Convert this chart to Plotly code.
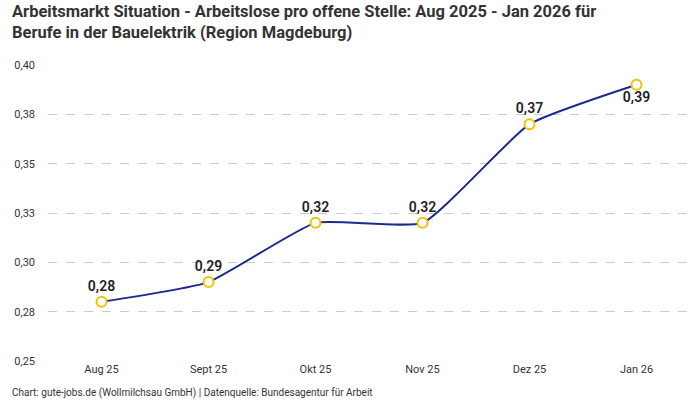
import plotly.graph_objects as go

# Daten
monate = ['Aug 25', 'Sept 25', 'Okt 25', 'Nov 25', 'Dez 25', 'Jan 26']
werte = [0.28, 0.29, 0.32, 0.32, 0.37, 0.39]
label_pos = ['top center', 'top center', 'top center', 'top center', 'top center', 'bottom center']

y_ticks = [0.25, 0.275, 0.30, 0.325, 0.35, 0.375, 0.40]
y_ticktext = ['0,25', '0,28', '0,30', '0,33', '0,35', '0,38', '0,40']

FONT = 'Roboto'

fig = go.Figure()

fig.add_trace(go.Scatter(
    x=monate,
    y=werte,
    mode='lines+markers+text',
    line=dict(color='#1b2a8c', width=2, shape='spline', smoothing=0.45),
    marker=dict(size=10, color='white', line=dict(color='#f5c000', width=2)),
    text=[f"{v:.2f}".replace('.', ',') for v in werte],
    textposition=label_pos,
    textfont=dict(family=FONT, size=14, color='#222', weight=600),
    hoverinfo='skip',
    showlegend=False
))

fig.add_annotation(
    xref='paper', yref='paper', x=-0.059, y=1.22,
    text='<b>Arbeitsmarkt Situation - Arbeitslose pro offene Stelle: Aug 2025 - Jan 2026 für<br>Berufe in der Bauelektrik (Region Magdeburg)</b>',
    showarrow=False, xanchor='left', yanchor='top', align='left',
    font=dict(family=FONT, size=16.5, color='#333')
)

fig.add_annotation(
    xref='paper', yref='paper', x=-0.059, y=-0.108,
    text='Chart: gute-jobs.de (Wollmilchsau GmbH) | Datenquelle: Bundesagentur für Arbeit',
    showarrow=False, xanchor='left', yanchor='middle', align='left',
    font=dict(family=FONT, size=10, color='#333')
)

fig.update_layout(
    width=700, height=400,
    margin=dict(l=48, r=10, t=65, b=39),
    plot_bgcolor='white', paper_bgcolor='white',
    font=dict(family=FONT, size=11, color='#333'),
    xaxis=dict(
        range=[-0.5, 5.5],
        showgrid=False, zeroline=False, showline=False,
        ticks='', tickfont=dict(size=11, color='#333')
    ),
    yaxis=dict(
        range=[0.25, 0.40],
        tickvals=y_ticks, ticktext=y_ticktext,
        showgrid=True, gridcolor='#cccccc', griddash='dash', gridwidth=1,
        zeroline=False, showline=False,
        ticks='', ticklabelstandoff=12,
        tickfont=dict(size=11, color='#333')
    )
)

fig.write_html('out.html', config={'displayModeBar': False},
               post_script="document.body.style.margin='0';")
